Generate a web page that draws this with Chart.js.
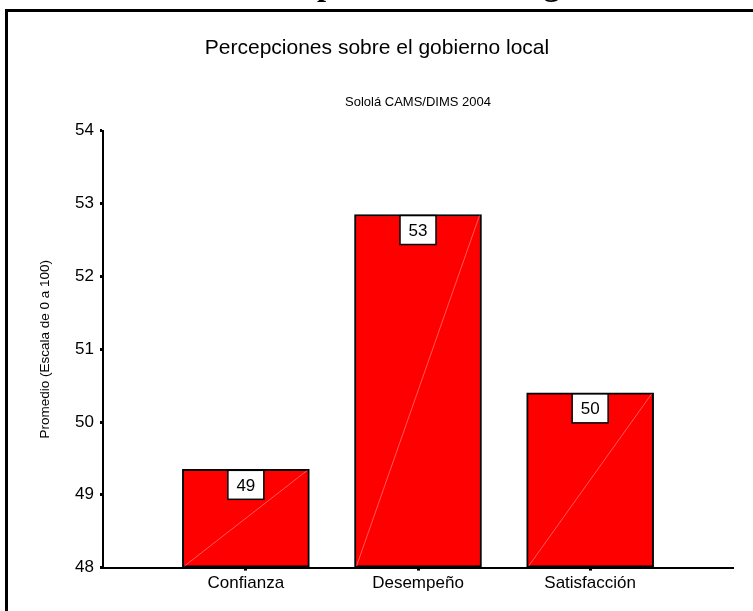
<!DOCTYPE html>
<html>
<head>
<meta charset="utf-8">
<script src="https://cdn.jsdelivr.net/npm/chart.js@4/dist/chart.umd.min.js"></script>
<style>
    html, body { margin: 0; padding: 0; background: #fff; }
    #wrap { width: 753px; height: 611px; position: relative; }
</style>
</head>
<body>
<div id="wrap"><canvas id="perceptionChart"></canvas></div>
<script>
const categories = ["Confianza", "Desempeño", "Satisfacción"];
const averages = [49.35, 52.85, 50.4];
const barLabels = ["49", "53", "50"];
const yTicks = [48, 49, 50, 51, 52, 53, 54];

const FONT = '"Liberation Sans", Arial, sans-serif';

// frame, cut-off heading and value boxes
const decorPlugin = {
    id: 'decor',
    afterDatasetsDraw(chart) {
        const ctx = chart.ctx;
        const meta = chart.getDatasetMeta(0);
        ctx.save();
        meta.data.forEach((bar, i) => {
            const left = bar.x - bar.width / 2;
            const right = bar.x + bar.width / 2;
            // faint diagonal across the bar
            ctx.strokeStyle = 'rgba(255, 160, 160, 0.8)';
            ctx.lineWidth = 0.7;
            ctx.beginPath();
            ctx.moveTo(left + 2, bar.base - 1);
            ctx.lineTo(right - 2, bar.y + 1);
            ctx.stroke();

            // value box
            const w = 36, h = 29;
            const top = bar.y + 1;
            ctx.fillStyle = '#fff';
            ctx.fillRect(bar.x - w / 2, top, w, h);
            ctx.strokeStyle = '#000';
            ctx.lineWidth = 1.5;
            ctx.strokeRect(bar.x - w / 2, top, w, h);
            ctx.fillStyle = '#000';
            ctx.font = '17px ' + FONT;
            ctx.textAlign = 'center';
            ctx.textBaseline = 'middle';
            ctx.fillText(barLabels[i], bar.x, top + h / 2 + 1);
        });
        ctx.restore();
    },
    afterDraw(chart) {
        const ctx = chart.ctx;
        ctx.save();
        ctx.strokeStyle = '#000';
        ctx.lineWidth = 3;
        ctx.beginPath();
        ctx.moveTo(6.5, chart.height);
        ctx.lineTo(6.5, 10.5);
        ctx.lineTo(chart.width, 10.5);
        ctx.stroke();

        // heading of the page above, cut off by the crop
        const heading = "Percepciones sobre el gobierno local";
        ctx.font = 'bold 30px "Liberation Serif", serif';
        const k = 227 / ctx.measureText("pciones sobre el ").width;
        ctx.font = 'bold ' + (30 * k).toFixed(1) + 'px "Liberation Serif", serif';
        ctx.fillStyle = '#000';
        ctx.textAlign = 'left';
        ctx.textBaseline = 'alphabetic';
        ctx.fillText(heading, 317 - ctx.measureText("Perce").width, -5);
        ctx.restore();
    }
};

new Chart(document.getElementById('perceptionChart'), {
    type: 'bar',
    data: {
        datasets: [{
            data: averages.map((v, i) => ({ x: i, y: v })),
            base: yTicks[0],
            backgroundColor: '#ff0000',
            borderColor: '#000',
            borderWidth: 2,
            borderSkipped: false,
            barThickness: 127
        }]
    },
    options: {
        responsive: true,
        maintainAspectRatio: false,
        animation: false,
        layout: { padding: { left: 21, right: 20, top: 0, bottom: 14 } },
        plugins: {
            legend: { display: false },
            tooltip: { enabled: false },
            title: {
                display: true,
                text: 'Percepciones sobre el gobierno local',
                color: '#000',
                font: { family: FONT, size: 21, weight: 'normal' },
                padding: { top: 36, bottom: 0 }
            },
            subtitle: {
                display: true,
                fullSize: false,
                text: 'Sololá CAMS/DIMS 2004',
                color: '#000',
                font: { family: FONT, size: 13 },
                padding: { top: 33, bottom: 21 }
            }
        },
        scales: {
            x: {
                type: 'linear',
                offset: false,
                min: -0.83,
                max: 2.83,
                afterBuildTicks: scale => {
                    scale.ticks = categories.map((c, i) => ({ value: i }));
                },
                ticks: {
                    callback: value => categories[value],
                    color: '#000',
                    font: { family: FONT, size: 17 },
                    padding: 3,
                    maxRotation: 0
                },
                grid: { offset: false, drawOnChartArea: false, tickLength: 3, tickWidth: 3, tickColor: '#000' },
                border: { color: '#000', width: 2 }
            },
            y: {
                min: 48,
                max: 54,
                afterBuildTicks: scale => {
                    scale.ticks = yTicks.map(v => ({ value: v }));
                },
                afterFit: scale => { scale.width = 82; },
                ticks: {
                    color: '#000',
                    font: { family: FONT, size: 17 },
                    padding: 6
                },
                grid: { drawOnChartArea: false, tickLength: 3, tickWidth: 3, tickColor: '#000' },
                border: { color: '#000', width: 2 },
                title: {
                    display: true,
                    text: 'Promedio (Escala de 0 a 100)',
                    color: '#000',
                    font: { family: FONT, size: 13.5 },
                    padding: { top: 16, bottom: 0 }
                }
            }
        }
    },
    plugins: [decorPlugin]
});
</script>
</body>
</html>
